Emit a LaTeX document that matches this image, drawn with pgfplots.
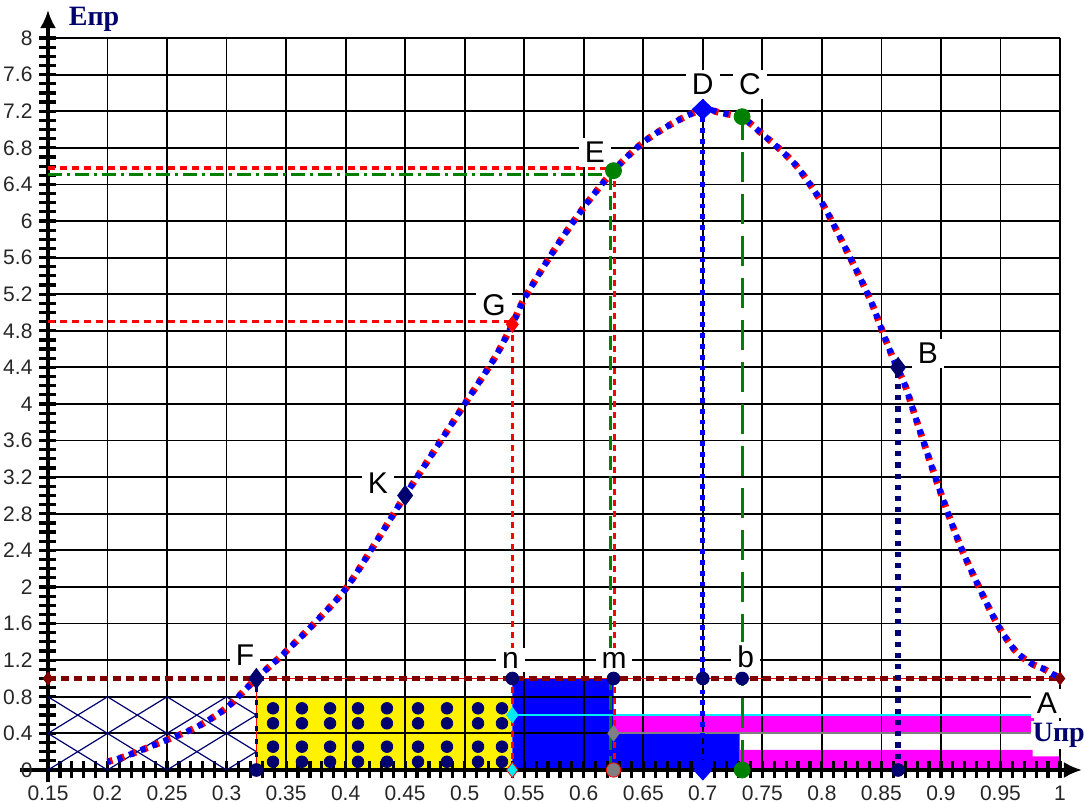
\documentclass[border=0pt]{standalone}
\usepackage{pgfplots}
\pgfplotsset{compat=1.18}
\usepackage{fontspec}
\setmainfont{Liberation Sans}
\newfontfamily\serifb{Liberation Serif}
\usetikzlibrary{arrows.meta}
\definecolor{navy}{RGB}{0,0,110}
\definecolor{brownr}{RGB}{128,0,0}
\definecolor{dgreen}{RGB}{0,128,0}
\definecolor{mag}{RGB}{255,0,255}
\definecolor{cyanc}{RGB}{0,235,245}
\definecolor{cblue}{RGB}{0,0,255}
\tikzset{lab/.style={fill=white, inner xsep=3pt, inner ysep=2pt, font=\fontsize{15}{15}\selectfont}}

\pgfplotstableread{
x y
0.2 0.09
0.215 0.15
0.25 0.33
0.275 0.47
0.3 0.68
0.325 1.0
0.347 1.26
0.375 1.62
0.4 1.98
0.425 2.48
0.45 3.0
0.475 3.5
0.5 4.0
0.525 4.5
0.54 4.87
0.55 5.15
0.575 5.68
0.6 6.15
0.625 6.55
0.65 6.86
0.675 7.07
0.7 7.22
0.715 7.18
0.733 7.13
0.75 6.95
0.765 6.78
0.78 6.58
0.8 6.2
0.818 5.75
0.84 5.16
0.853 4.72
0.863 4.4
0.87 4.2
0.882 3.72
0.899 3.06
0.916 2.46
0.933 1.97
0.948 1.58
0.962 1.31
0.975 1.17
0.987 1.1
1.0 1.0
}\curvetab

\pgfplotstableread{
x y
0.339 0.674
0.3633 0.674
0.3869 0.674
0.4104 0.674
0.4347 0.674
0.4608 0.674
0.4851 0.674
0.5112 0.674
0.5313 0.674
0.339 0.51
0.3633 0.51
0.3869 0.51
0.4104 0.51
0.4347 0.51
0.4608 0.51
0.4851 0.51
0.5112 0.51
0.5313 0.51
0.339 0.255
0.3633 0.255
0.3869 0.255
0.4104 0.255
0.4347 0.255
0.4608 0.255
0.4851 0.255
0.5112 0.255
0.5313 0.255
0.339 0.09
0.3633 0.09
0.3869 0.09
0.4104 0.09
0.4347 0.09
0.4608 0.09
0.4851 0.09
0.5112 0.09
0.5313 0.09
}\dotstab

\begin{document}
\begin{tikzpicture}
\begin{axis}[
  set layers,
  scale only axis, width=506pt, height=366pt,
  xmin=0.15, xmax=1, ymin=0, ymax=8,
  axis lines=left,
  x axis line style={line width=1.6pt, -{Latex[length=9pt,width=8pt]}, shorten >=-11pt, shorten <=-14pt},
  y axis line style={line width=1.6pt, -{Latex[length=9pt,width=8pt]}, shorten >=-14pt, shorten <=-6pt},
  xtick={0.15,0.2,0.25,0.3,0.35,0.4,0.45,0.5,0.55,0.6,0.65,0.7,0.75,0.8,0.85,0.9,0.95,1},
  xticklabels={0.15,0.2,0.25,0.3,0.35,0.4,0.45,0.5,0.55,0.6,0.65,0.7,0.75,0.8,0.85,0.9,0.95,1},
  ytick={0,0.4,0.8,1.2,1.6,2,2.4,2.8,3.2,3.6,4,4.4,4.8,5.2,5.6,6,6.4,6.8,7.2,7.6,8},
  yticklabels={0,0.4,0.8,1.2,1.6,2,2.4,2.8,3.2,3.6,4,4.4,4.8,5.2,5.6,6,6.4,6.8,7.2,7.6,8},
  minor x tick num=4, minor y tick num=3,
  grid=major,
  major grid style={black, line width=0.9pt},
  tick align=center,
  major tick length=8.5pt, minor tick length=8.5pt,
  tick style={black, line width=1.6pt},
  tick label style={font=\fontsize{10.5}{12}\selectfont, text=black!85},
  clip=false,
]
% filled regions (behind grid)
\addplot[on layer=axis background, fill=yellow, draw=none] coordinates {(0.325,0) (0.325,0.8) (0.54,0.8) (0.54,0)};
\addplot[on layer=axis background, fill=cblue, draw=none] coordinates {(0.54,0) (0.54,1.0) (0.625,1.0) (0.625,0.4) (0.731,0.4) (0.731,0)};
\addplot[on layer=axis background, fill=mag, draw=none] coordinates {(0.625,0.4) (0.625,0.59) (0.978,0.59) (0.978,0.4)};
\addplot[on layer=axis background, fill=mag, draw=none] coordinates {(0.731,0.02) (0.731,0.22) (0.977,0.22) (0.977,0.15) (1.0,0.15) (1.0,0.02)};

% crosshatch
\addplot[navy, line width=0.6pt] coordinates {(0.15,0.4) (0.2,0.8)};
\addplot[navy, line width=0.6pt] coordinates {(0.15,0) (0.25,0.8)};
\addplot[navy, line width=0.6pt] coordinates {(0.2,0) (0.3,0.8)};
\addplot[navy, line width=0.6pt] coordinates {(0.25,0) (0.325,0.6)};
\addplot[navy, line width=0.6pt] coordinates {(0.3,0) (0.325,0.2)};
\addplot[navy, line width=0.6pt] coordinates {(0.15,0.4) (0.2,0)};
\addplot[navy, line width=0.6pt] coordinates {(0.15,0.8) (0.25,0)};
\addplot[navy, line width=0.6pt] coordinates {(0.2,0.8) (0.3,0)};
\addplot[navy, line width=0.6pt] coordinates {(0.25,0.8) (0.325,0.2)};
\addplot[navy, line width=0.6pt] coordinates {(0.3,0.8) (0.325,0.6)};

% dots in yellow
\addplot[only marks, mark=*, mark size=2.9pt, navy] table {\dotstab};

% horizontal lines
\addplot[cyanc, line width=0.8pt] coordinates {(0.54,0.6) (1.0,0.6)};
\addplot[gray, line width=1pt] coordinates {(0.625,0.4) (0.978,0.4)};
\addplot[red, line width=0.8pt] coordinates {(0.325,1.0) (1.0,1.0)};
\addplot[brownr, line width=2.2pt, dash pattern=on 4pt off 2.5pt] coordinates {(0.15,1.0) (1.0,1.0)};
\addplot[red, line width=1.6pt, dash pattern=on 3.5pt off 2.5pt] coordinates {(0.15,6.58) (0.625,6.58)};
\addplot[dgreen, line width=1.5pt, dash pattern=on 7pt off 2.5pt on 1.5pt off 2.5pt] coordinates {(0.15,6.51) (0.623,6.51)};
\addplot[red, line width=1.6pt, dash pattern=on 3.5pt off 2.5pt] coordinates {(0.15,4.9) (0.54,4.9)};

% vertical lines
\addplot[red, line width=0.8pt] coordinates {(0.325,0) (0.325,1.0)};
\addplot[navy, line width=1.4pt, dash pattern=on 2.5pt off 4pt] coordinates {(0.325,0) (0.325,1.0)};
\addplot[red, line width=1.5pt, dash pattern=on 3pt off 2.5pt] coordinates {(0.54,0) (0.54,4.87)};
\addplot[red, line width=1.5pt, dash pattern=on 3pt off 2.5pt] coordinates {(0.626,0) (0.626,6.55)};
\addplot[dgreen, line width=1.5pt, dash pattern=on 7pt off 3pt] coordinates {(0.6225,0) (0.6225,6.51)};
\addplot[cblue, line width=2.6pt, dash pattern=on 2.4pt off 3pt] coordinates {(0.7,0) (0.7,7.22)};
\addplot[dgreen, line width=1.6pt, dash pattern=on 15pt off 6pt] coordinates {(0.733,0) (0.733,7.14)};
\addplot[navy, line width=3pt, dash pattern=on 2.6pt off 3pt] coordinates {(0.864,0) (0.864,4.4)};

% the curve
\addplot[red, line width=3.4pt, dash pattern=on 2.6pt off 3.6pt, smooth, tension=0.5] table {\curvetab};
\addplot[cblue, line width=3pt, dash pattern=on 2.6pt off 3.6pt, dash phase=1.1pt, smooth, tension=0.5] table {\curvetab};

% markers on the curve
\addplot[only marks, mark=diamond*, mark size=5pt, navy] coordinates {(0.325,1.0) (0.45,3.0) (0.864,4.4)};
\addplot[only marks, mark=diamond*, mark size=4pt, red] coordinates {(0.54,4.87)};
\addplot[only marks, mark=*, mark size=4pt, dgreen] coordinates {(0.625,6.55) (0.733,7.14)};
\addplot[only marks, mark=diamond*, mark size=5pt, cblue, mark options={xscale=1.4}] coordinates {(0.7,7.22)};
\addplot[only marks, mark=diamond*, mark size=3.2pt, brownr] coordinates {(0.15,1.0) (1.0,1.0)};

% markers on y=1 and y=0
\addplot[only marks, mark=*, mark size=3.2pt, navy] coordinates {(0.54,1.0) (0.625,1.0) (0.7,1.0) (0.733,1.0) (0.325,0) (0.864,0)};
\addplot[only marks, mark=diamond*, mark size=3.8pt, cyanc] coordinates {(0.54,0.6)};
\addplot[only marks, mark=diamond*, mark size=3.8pt, cyanc, mark options={draw=red}] coordinates {(0.54,0)};
\addplot[only marks, mark=diamond*, mark size=3.8pt, gray] coordinates {(0.625,0.4)};
\addplot[only marks, mark=*, mark size=3.6pt, gray, mark options={draw=red}] coordinates {(0.625,0)};
\addplot[only marks, mark=diamond*, mark size=5pt, cblue, mark options={xscale=1.2}] coordinates {(0.7,0)};
\addplot[only marks, mark=*, mark size=4pt, dgreen] coordinates {(0.733,0)};

% labels
\node[lab] at (axis cs:0.3155,1.257) {F};
\node[lab] at (axis cs:0.5385,1.2) {n};
\node[lab] at (axis cs:0.6254,1.2) {m};
\node[lab] at (axis cs:0.736,1.235) {b};
\node[lab] at (axis cs:0.7,7.49) {D};
\node[lab] at (axis cs:0.7396,7.49) {C};
\node[lab] at (axis cs:0.6094,6.75) {E};
\node[lab] at (axis cs:0.5246,5.08) {G};
\node[lab] at (axis cs:0.427,3.13) {K};
\node[lab] at (axis cs:0.889,4.55) {B};
\node[lab] at (axis cs:0.989,0.73) {A};
\node[fill=white, inner sep=1pt, text=navy, font=\serifb\bfseries\fontsize{14}{14}\selectfont] at (axis cs:0.999,0.38) {Uпр};
\node[text=navy, font=\serifb\bfseries\fontsize{14}{14}\selectfont] at (rel axis cs:0.0455,1.026) {Eпр};
\end{axis}
\pgfresetboundingbox
\path[use as bounding box] (-24pt,-16pt) rectangle (518pt,385pt);
\end{tikzpicture}
\end{document}
